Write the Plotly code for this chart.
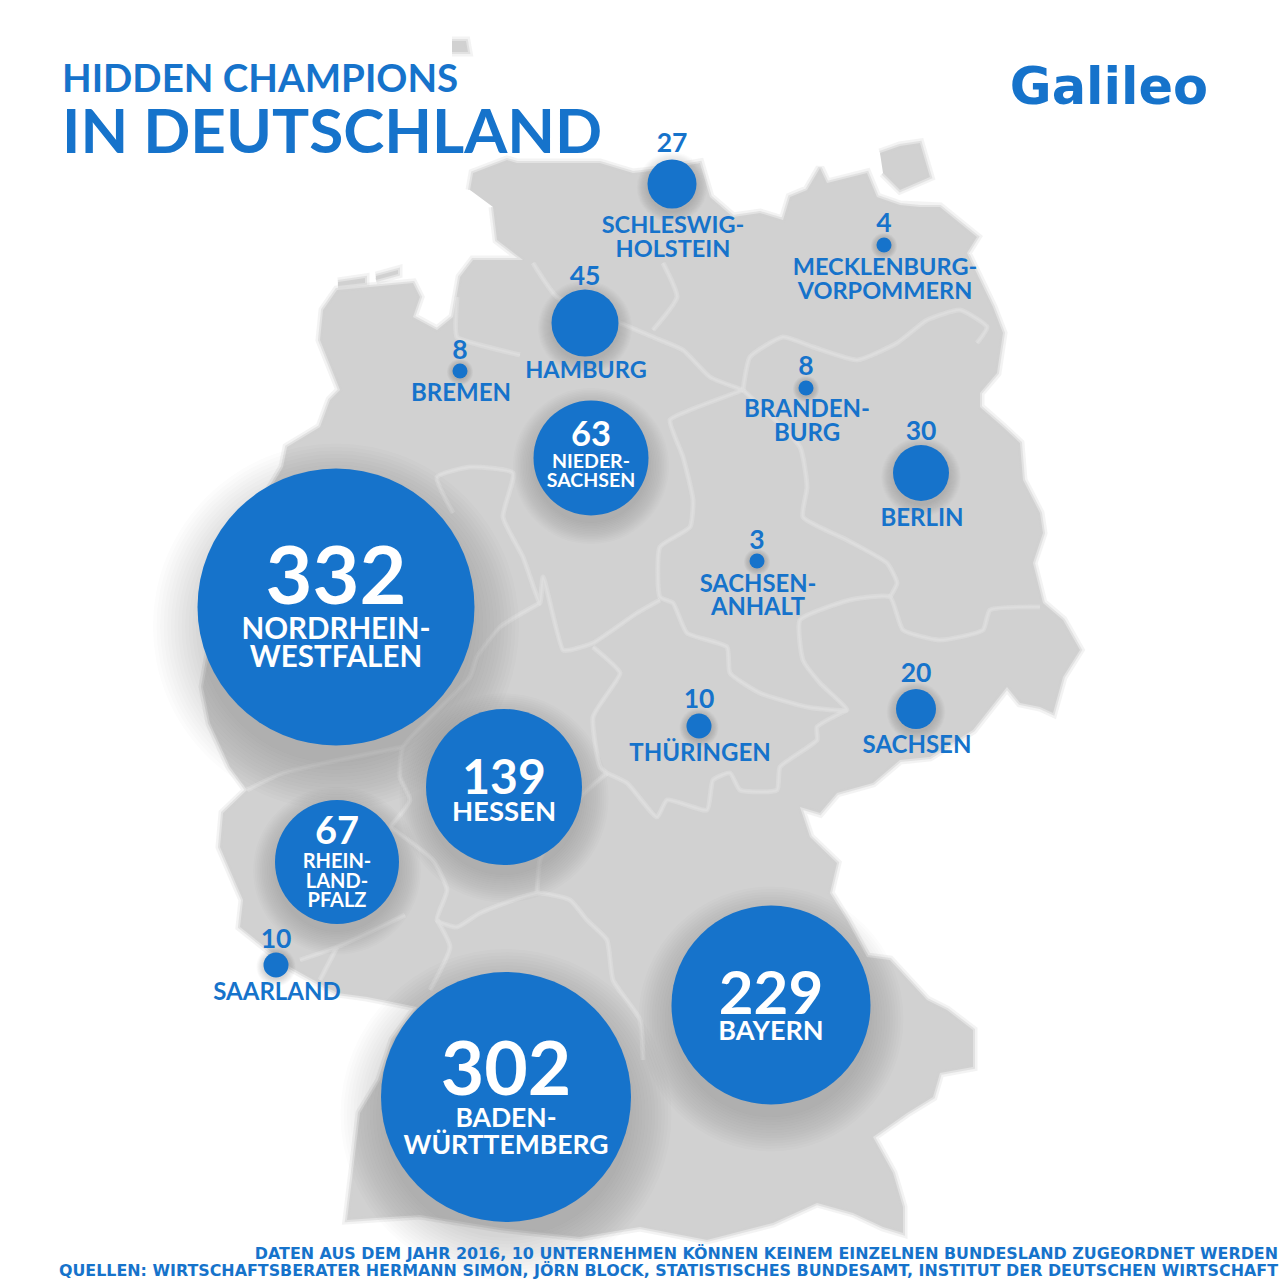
import plotly.graph_objects as go

# ---------- data ----------
states = ["Schleswig-Holstein", "Mecklenburg-Vorpommern", "Hamburg", "Bremen", "Niedersachsen",
          "Brandenburg", "Berlin", "Sachsen-Anhalt", "Nordrhein-Westfalen", "Hessen",
          "Rheinland-Pfalz", "Saarland", "Thüringen", "Sachsen", "Baden-Württemberg", "Bayern"]
values = [27, 4, 45, 8, 63, 8, 30, 3, 332, 139, 67, 10, 10, 20, 302, 229]
label_lines = [["SCHLESWIG-", "HOLSTEIN"], ["MECKLENBURG-", "VORPOMMERN"], ["HAMBURG"], ["BREMEN"],
               ["NIEDER-", "SACHSEN"], ["BRANDEN-", "BURG"], ["BERLIN"], ["SACHSEN-", "ANHALT"],
               ["NORDRHEIN-", "WESTFALEN"], ["HESSEN"], ["RHEIN-", "LAND-", "PFALZ"], ["SAARLAND"],
               ["THÜRINGEN"], ["SACHSEN"], ["BADEN-", "WÜRTTEMBERG"], ["BAYERN"]]
title_lines = ["HIDDEN CHAMPIONS", "IN DEUTSCHLAND"]
logo_text = "Galileo"
footer_lines = ["DATEN AUS DEM JAHR 2016, 10 UNTERNEHMEN KÖNNEN KEINEM EINZELNEN BUNDESLAND ZUGEORDNET WERDEN",
                "QUELLEN: WIRTSCHAFTSBERATER HERMANN SIMON, JÖRN BLOCK, STATISTISCHES BUNDESAMT, INSTITUT DER DEUTSCHEN WIRTSCHAFT"]

# ---------- placement (picture space, separate from the data) ----------
bubble_x = [672, 884, 585, 460, 591, 806, 921, 757, 336, 504, 337, 276, 699, 916, 506, 771]
bubble_y = [184, 245, 323, 371, 458, 388, 473, 561, 607, 787, 862, 965, 726, 709, 1097, 1005]
bubble_d = [49, 15, 67, 15, 115, 15, 56, 15, 277, 156, 124, 25, 25, 40, 250, 199]
value_y = [142, 222, 275, 349, 433, 365, 430, 539, 574, 776, 830, 938, 698, 672, 1068, 992]
label_y = [224, 266, 369, 392, 461, 408, 517, 583, 628, 811, 861, 991, 752, 744, 1117, 1030]
label_step = [24, 24, 0, 0, 19, 24, 0, 23, 28.5, 0, 19.5, 0, 0, 0, 27, 0]
value_fs = [26.5, 26.5, 26.5, 26.5, 34.5, 26.5, 26.5, 26.5, 81, 48, 38, 26.5, 26.5, 26.5, 75, 60]
label_fs = [23.5, 23.5, 23.5, 24, 19.5, 24, 24, 23.8, 29.5, 27.5, 20, 24, 24, 24, 26.5, 27]
inside = [False, False, False, False, True, False, False, False, True, True, True, False, False, False, True, True]

land_x = [470, 473, 507, 517, 600, 633, 660, 700, 710, 733, 760, 783, 790, 807, 820, 827, 867, 877, 900, 920, 940, 977, 967,
          980, 993, 1003, 997, 980, 980, 1003, 1020, 1023, 1040, 1043, 1033, 1043, 1063, 1080, 1063, 1053, 1040, 1020, 1007, 973,
          930, 900, 873, 837, 820, 800, 810, 837, 830, 847, 867, 890, 927, 947, 973, 973, 940, 933, 907, 873, 893, 903,
          903, 883, 853, 817, 773, 707, 640, 580, 500, 420, 347, 360, 380, 393, 417, 367, 337, 290, 240, 243, 220, 223,
          247, 230, 210, 203, 215, 240, 283, 287, 320, 330, 340, 320, 323, 337, 413, 420, 413, 437, 453, 460, 473, 523, 497,
          493, None,
          880, 900, 920, 930, 900, 883, None,
          452, 466, 468, 452, None,
          338, 365, 365, 338, None,
          376, 398, 398, 376]
land_y = [190, 173, 160, 163, 163, 173, 170, 163, 197, 217, 213, 220, 197, 190, 168, 183, 173, 197, 205, 207, 207, 237, 253,
          280, 307, 333, 373, 393, 407, 427, 443, 480, 513, 533, 563, 603, 620, 650, 677, 713, 707, 703, 687, 730,
          757, 760, 783, 793, 813, 807, 837, 863, 893, 920, 957, 960, 1000, 1010, 1030, 1067, 1073, 1097, 1113, 1137, 1173, 1207,
          1233, 1227, 1213, 1203, 1223, 1240, 1227, 1237, 1228, 1215, 1220, 1113, 1080, 1040, 1007, 997, 993, 967, 927, 900, 847, 813,
          790, 767, 723, 687, 620, 540, 467, 447, 427, 400, 390, 340, 310, 290, 283, 297, 317, 330, 317, 277, 260, 260, 240,
          207, None,
          153, 146, 143, 177, 190, 173, None,
          41, 41, 52, 52, None,
          282, 278, 283, 286, None,
          276, 270, 274, 280]

border_x = [533, 557, 620, 653, 683, 710, 743, None,
            663, 677, 653, None,
            743, 750, 783, 813, 857, 897, 927, 960, 987, 977, None,
            743, 690, 670, 683, 693, 690, 660, 660, 673, 687, 727, 730, 760, 807, 847, 820, 803, 800, 850, 890, 903, 940, 983, 990, 1040, None,
            743, 800, 807, 803, 847, 887, 897, 890, None,
            660, 637, 593, 570, 563, 543, 540, 523, 503, 513, 470, 437, 453, None,
            593, 620, 610, 593, 600, 607, 627, 657, 667, 707, 713, 730, 740, 777, 780, 817, 817, 847, None,
            607, 580, 550, 540, 537, None,
            540, 500, 477, 470, 403, 400, 410, 390, None,
            403, 283, 247, None,
            457, 457, 480, 520, None,
            390, 433, 447, 437, 457, 480, 537, 570, 587, 607, 613, 640, 643, None,
            437, 450, 430, None,
            337, 320, None,
            300, 337, 405]
border_y = [263, 297, 323, 337, 350, 377, 390, None,
            263, 297, 330, None,
            390, 357, 337, 347, 360, 343, 320, 310, 327, 343, None,
            390, 410, 420, 457, 500, 527, 547, 597, 603, 633, 647, 673, 693, 707, 710, 683, 660, 620, 600, 597, 630, 640, 630, 610, 607, None,
            390, 447, 487, 517, 540, 563, 583, 597, None,
            600, 613, 643, 650, 650, 577, 603, 557, 517, 473, 467, 477, 513, None,
            647, 673, 690, 717, 767, 773, 783, 817, 800, 810, 780, 773, 790, 790, 767, 740, 727, 710, None,
            773, 797, 840, 860, 893, None,
            603, 627, 657, 677, 747, 777, 800, 827, None,
            747, 773, 790, None,
            297, 337, 345, 355, None,
            827, 860, 890, 920, 927, 913, 893, 900, 920, 940, 980, 1020, 1060, None,
            920, 947, 990, None,
            947, 980, None,
            960, 947, 915]

BLUE = "#1673CB"
LAND = "#D1D1D1"
FONT = "Lato"


def ty(y, fs):
    """Plotly's text sits above its anchor by about this share of the size."""
    return y + 0.115 * fs


fig = go.Figure()

# map with a soft edge
fig.add_trace(go.Scatter(x=land_x, y=land_y, mode="lines", hoverinfo="skip",
                         line=dict(color="rgba(209,209,209,0.25)", width=9)))
fig.add_trace(go.Scatter(x=land_x, y=land_y, mode="lines", fill="toself", fillcolor=LAND,
                         line=dict(color="rgba(209,209,209,0.5)", width=4), hoverinfo="skip"))
fig.add_trace(go.Scatter(x=border_x, y=border_y, mode="lines", hoverinfo="skip",
                         line=dict(color="rgba(235,235,235,0.3)", width=5, shape="spline", smoothing=0.5)))
fig.add_trace(go.Scatter(x=border_x, y=border_y, mode="lines", hoverinfo="skip",
                         line=dict(color="#DEDEDE", width=1.8, shape="spline", smoothing=0.5)))

# soft bubble shadows
layers = 14
for k in range(layers, 0, -1):
    fig.add_trace(go.Scatter(
        x=bubble_x,
        y=[y + d * 0.07 for y, d in zip(bubble_y, bubble_d)],
        mode="markers", hoverinfo="skip",
        marker=dict(size=[d * (0.96 + 0.024 * k) + k * 0.5 for d in bubble_d], opacity=1,
                    color="rgba(50,50,50,0.014)", line=dict(width=0))))

# bubbles
fig.add_trace(go.Scatter(x=bubble_x, y=bubble_y, mode="markers", text=states, customdata=values,
                         hovertemplate="%{text}: %{customdata}<extra></extra>",
                         marker=dict(size=bubble_d, color=BLUE, opacity=1, line=dict(width=0))))

# value labels
fig.add_trace(go.Scatter(x=bubble_x, y=[ty(y, f) for y, f in zip(value_y, value_fs)], mode="text", hoverinfo="skip",
                         text=[f"<b>{v}</b>" for v in values], textposition="middle center",
                         textfont=dict(family=FONT, size=value_fs,
                                       color=["white" if i else BLUE for i in inside])))

# state labels
lx, ly, lt, ls, lc = [], [], [], [], []
for i, lines in enumerate(label_lines):
    for j, line in enumerate(lines):
        lx.append(bubble_x[i] + (1 if not inside[i] else 0))
        ly.append(ty(label_y[i] + j * label_step[i], label_fs[i]))
        lt.append(f"<b>{line}</b>")
        ls.append(label_fs[i])
        lc.append("white" if inside[i] else BLUE)
fig.add_trace(go.Scatter(x=lx, y=ly, mode="text", text=lt, hoverinfo="skip", textposition="middle center",
                         textfont=dict(family=FONT, size=ls, color=lc)))

# title, logo, footer
title_fs = [38.5, 62]
fig.add_trace(go.Scatter(x=[62, 62], y=[ty(78, 38.5), ty(130, 62)], mode="text", hoverinfo="skip",
                         textposition="middle right",
                         text=[f"<b>{t}</b>" for t in title_lines],
                         textfont=dict(family=FONT, size=title_fs, color=BLUE)))
fig.add_trace(go.Scatter(x=[1109], y=[ty(85, 51)], mode="text", hoverinfo="skip", textposition="middle center",
                         text=[f"<b>{logo_text}</b>"],
                         textfont=dict(family="DejaVu Sans", size=51, color=BLUE)))
fig.add_trace(go.Scatter(x=[1278, 1278], y=[ty(1253, 15.9), ty(1270, 15.9)], mode="text", hoverinfo="skip",
                         textposition="middle left",
                         text=[f"<b>{t}</b>" for t in footer_lines],
                         textfont=dict(family="DejaVu Sans", size=15.9, color=BLUE)))

fig.update_layout(width=1280, height=1280, margin=dict(l=0, r=0, t=0, b=0),
                  paper_bgcolor="white", plot_bgcolor="white", showlegend=False,
                  xaxis=dict(range=[0, 1280], visible=False, fixedrange=True),
                  yaxis=dict(range=[1280, 0], visible=False, fixedrange=True))
fig.write_html("out.html", config={"displayModeBar": False},
               post_script="document.body.style.margin='0';")
